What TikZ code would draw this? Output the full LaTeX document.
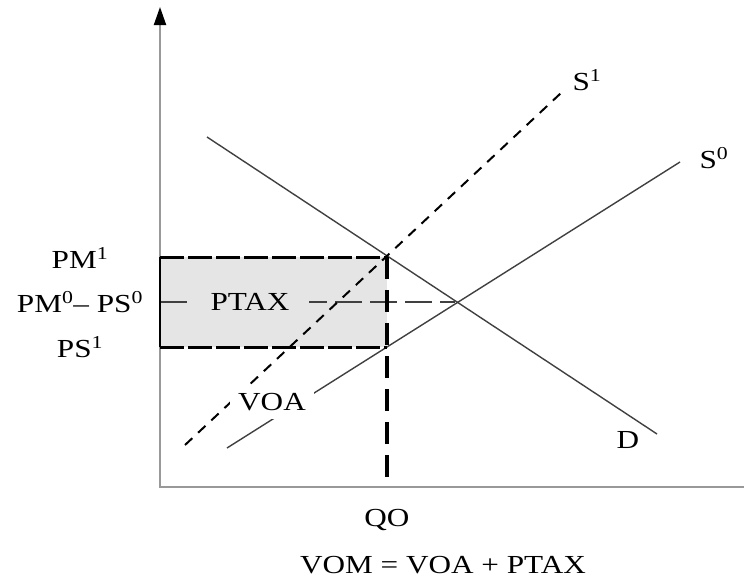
\documentclass[tikz,border=0pt]{standalone}
\usepackage{fontspec}
\setmainfont{Liberation Serif}[FakeStretch=1.2]
\usetikzlibrary{arrows.meta}
\definecolor{axisgray}{gray}{0.6}
\definecolor{linegray}{gray}{0.25}
\definecolor{boxgray}{gray}{0.9}
\begin{document}
\begin{tikzpicture}[x=1pt,y=-1pt,font=\fontsize{26}{30}\selectfont,
 axis/.style={draw=axisgray,line width=2pt},
 curve/.style={draw=linegray,line width=1.4pt},
 shifted/.style={draw=black,line width=2pt,dash pattern=on 10pt off 8pt},
 edge/.style={draw=black,line width=3pt,dash pattern=on 24pt off 4pt},
 qline/.style={draw=black,line width=4pt,dash pattern=on 22pt off 11pt},
 pline/.style={draw=linegray,line width=1.4pt,dash pattern=on 27pt off 8pt},
 lbl/.style={inner sep=1pt}]
\useasboundingbox (0,0) rectangle (744,581);
\coordinate (o) at (160,487);
\coordinate (ytop) at (160,7);
\coordinate (xend) at (744,487);
\coordinate (pm1) at (160,257);
\coordinate (pm0) at (160,302);
\coordinate (ps1) at (160,347);
\coordinate (q1) at (387,257);
\coordinate (q0) at (387,347);
\coordinate (qo) at (387,487);
\coordinate (e) at (455,302);
\coordinate (d1) at (207,137); \coordinate (d2) at (657,434);
\coordinate (s0a) at (227,448); \coordinate (s0b) at (680,162);
\coordinate (s1a) at (185,445); \coordinate (s1b) at (561,93);
\fill[boxgray] (pm1) rectangle (q0);
\draw[pline] (pm0) -- (e);
\draw[curve] (d1) -- (d2);
\draw[curve] (s0a) -- (s0b);
\draw[shifted] (s1a) -- (s1b);
\draw[axis,-{Triangle[black,width=12pt,length=18pt]}] (xend) -- (o) -- (ytop);
\draw[edge] (pm1) -- (q1);
\draw[edge] (ps1) -- (q0);
\draw[qline] (q1) -- (qo);
\draw[black,line width=2.5pt] (ps1) -- (pm1);
\node[lbl] (lpm1) at (80,258) {PM\textsuperscript{1}};
\node[lbl] (lpm0) at (80,302) {PM\textsuperscript{0}– PS\textsuperscript{0}};
\node[lbl] (lps1) at (80,347) {PS\textsuperscript{1}};
\node[fill=boxgray,inner xsep=20pt,inner ysep=2pt] (ptax) at (250,302) {PTAX};
\node[fill=white,inner sep=8pt] (voa) at (272,402) {VOA};
\node (ls1) at (587,80) {S\textsuperscript{1}};
\node (ls0) at (714,158) {S\textsuperscript{0}};
\node (ld) at (628,440) {D};
\node (lqo) at (387,520) {QO};
\node (lvom) at (443,565) {VOM = VOA + PTAX};
\end{tikzpicture}
\end{document}
